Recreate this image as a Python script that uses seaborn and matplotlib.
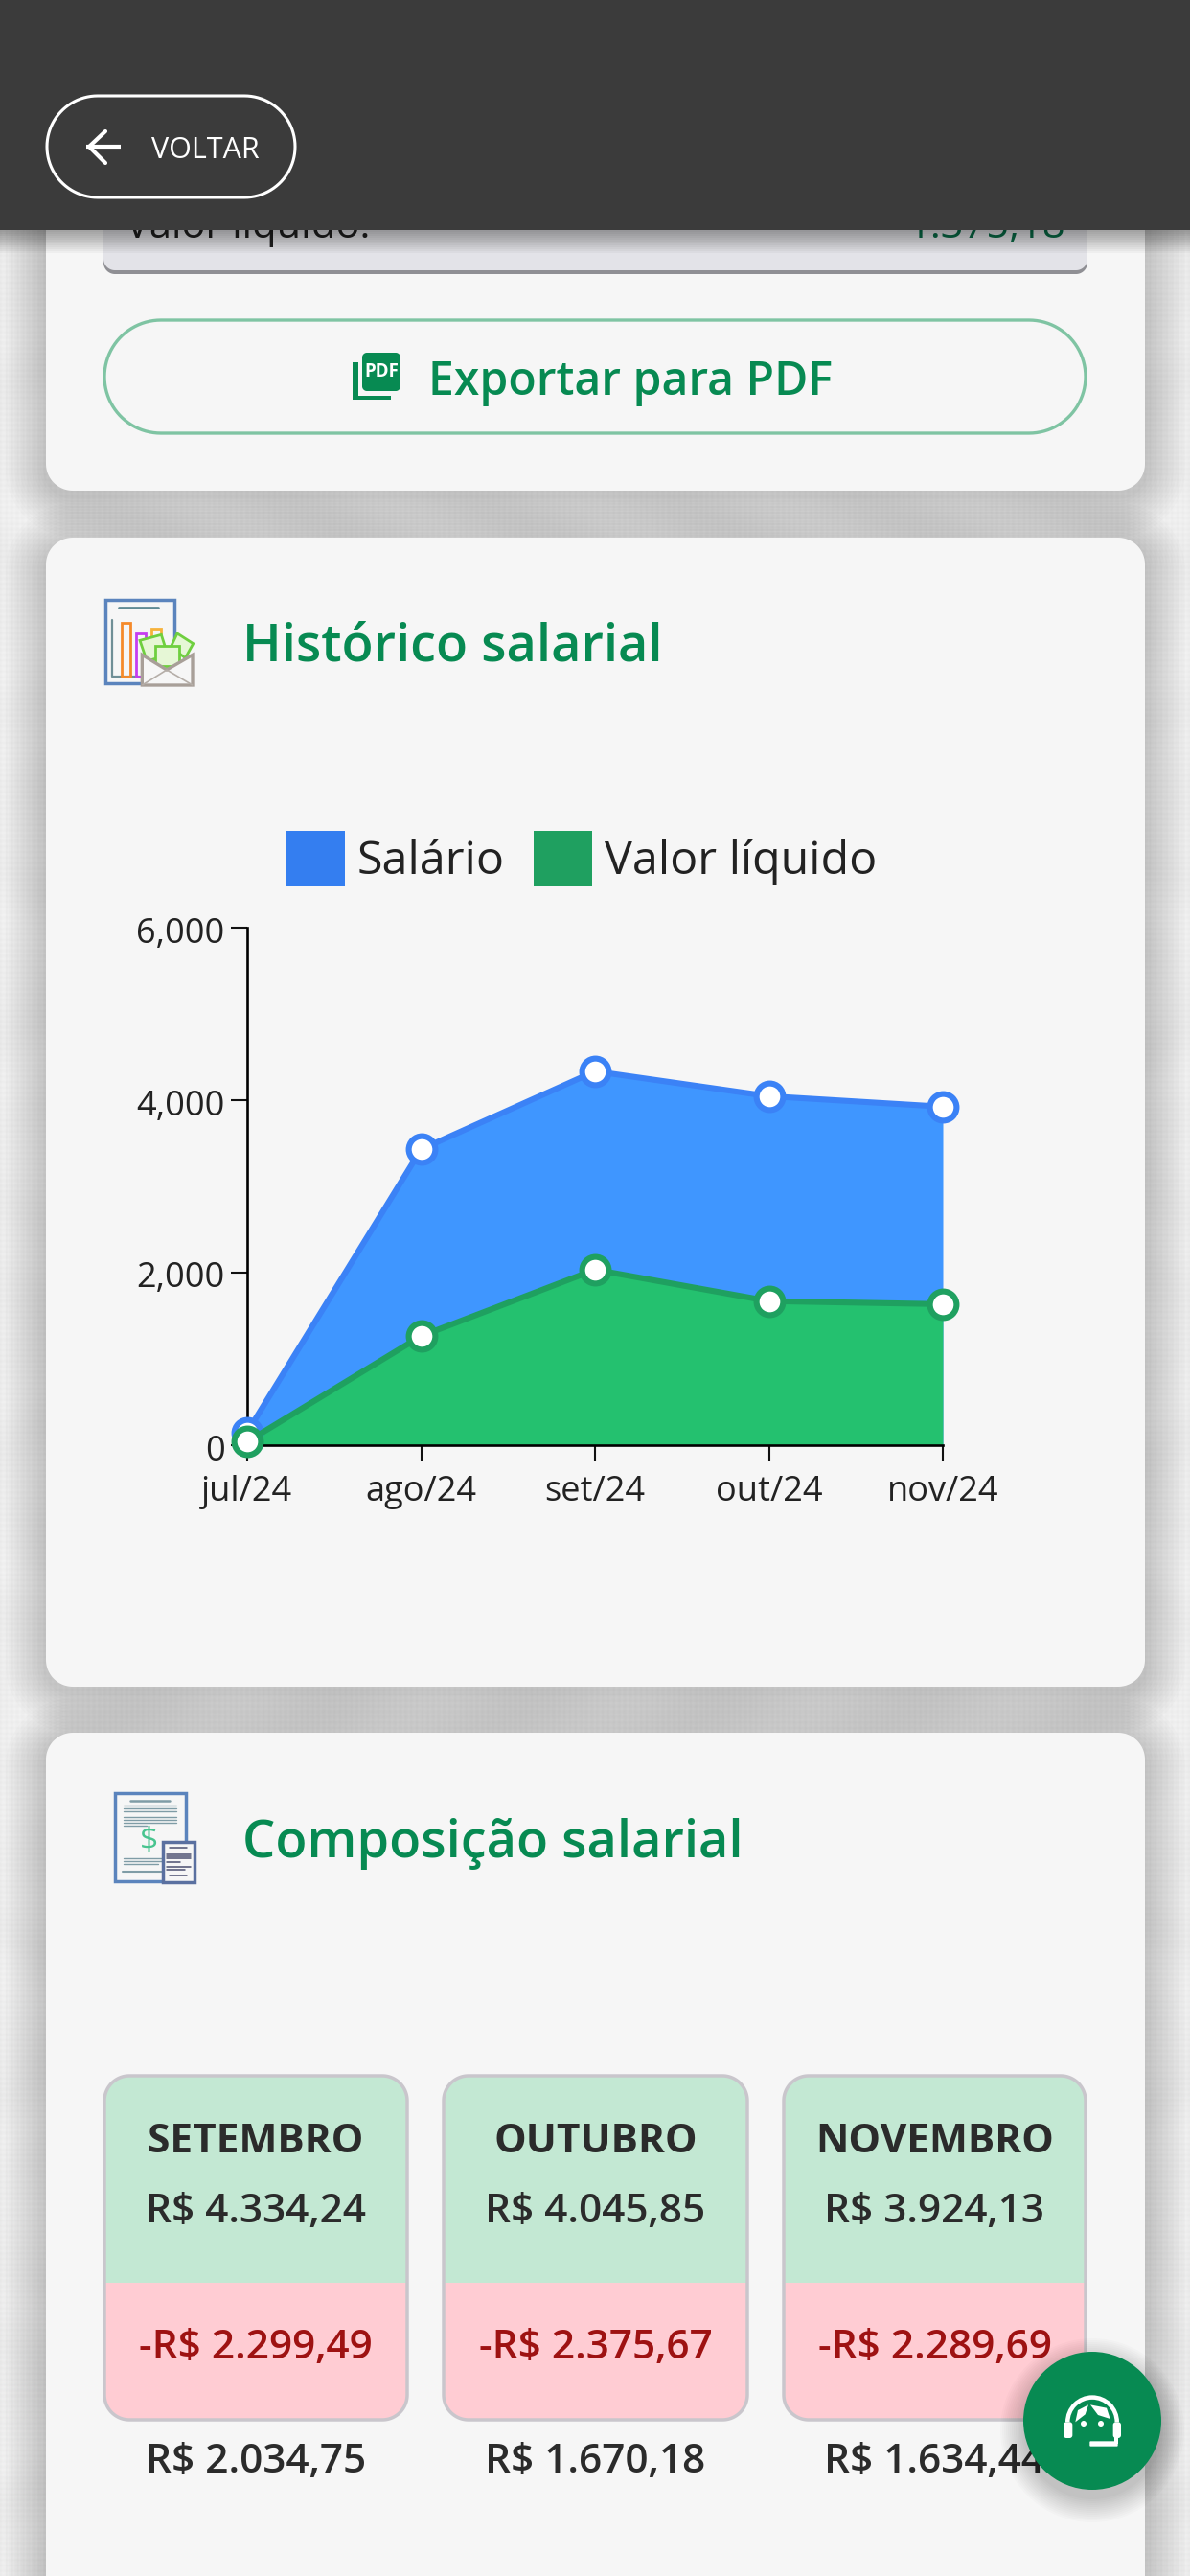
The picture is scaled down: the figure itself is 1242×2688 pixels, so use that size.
import numpy as np
import pandas as pd
import seaborn as sns
import matplotlib.pyplot as plt
from matplotlib.patches import Rectangle, Polygon, Circle, Wedge, Patch
from matplotlib.transforms import ScaledTranslation

# valores
meses = ['jul/24', 'ago/24', 'set/24', 'out/24', 'nov/24']
salario = [150, 3430, 4334.24, 4045.85, 3924.13]
liquido = [40, 1265, 2034.75, 1670.18, 1634.44]
y_ticks = [0, 2000, 4000, 6000]
y_labels = ['0', '2,000', '4,000', '6,000']

cards_mes = ['SETEMBRO', 'OUTUBRO', 'NOVEMBRO']
cards_bruto = ['R$ 4.334,24', 'R$ 4.045,85', 'R$ 3.924,13']
cards_desconto = ['-R$ 2.299,49', '-R$ 2.375,67', '-R$ 2.289,69']
cards_liquido = ['R$ 2.034,75', 'R$ 1.670,18', 'R$ 1.634,44']

VERDE = '#078a52'
AZUL_LINHA = '#3b82f6'
AZUL_AREA = '#3f96ff'
VERDE_LINHA = '#1fa060'
VERDE_AREA = '#24c16f'
CARD = '#f6f6f6'

sns.set_style('ticks')
plt.rcParams['font.family'] = ['Open Sans', 'DejaVu Sans']

fig = plt.figure(figsize=(12.42, 26.88), dpi=100)

# eixo da pagina, em pixels
page = fig.add_axes([0, 0, 1, 1])
page.set_xlim(0, 1242)
page.set_ylim(2688, 0)
page.axis('off')


# retangulo com cantos realmente circulares
def caixa(x0, y0, x1, y1, r, **kw):
    t = np.linspace(0, np.pi / 2, 24)
    pts = np.vstack([
        np.c_[x1 - r + r * np.sin(t), y0 + r - r * np.cos(t)],
        np.c_[x1 - r + r * np.cos(t), y1 - r + r * np.sin(t)],
        np.c_[x0 + r - r * np.sin(t), y1 - r + r * np.cos(t)],
        np.c_[x0 + r - r * np.cos(t), y0 + r - r * np.sin(t)],
    ])
    p = Polygon(pts, closed=True, **kw)
    page.add_patch(p)
    return p


def sombra(x0, y0, x1, y1, r, tam=42, dy=6, z=2):
    for d in range(tam, 0, -3):
        caixa(x0 - d, y0 - d + dy, x1 + d, y1 + d + dy, r + d,
              fc='black', ec='none', alpha=0.0105, zorder=z)


# fundo texturizado (trama clara)
yy, xx = np.mgrid[0:2688:2, 0:1242:2]
trama = (np.sin((xx + yy) * 0.55) * np.sin((xx - yy) * 0.55)
         + 0.6 * np.sin(xx * 0.031 + np.sin(yy * 0.017) * 3) * np.cos(yy * 0.023))
page.imshow(236 + 5 * trama, cmap='gray', vmin=0, vmax=255,
            extent=[0, 1242, 2688, 0], aspect='auto', zorder=0, interpolation='bilinear')
page.set_xlim(0, 1242)
page.set_ylim(2688, 0)

# cartoes
cartoes = [(48, 100, 1195, 512), (48, 561, 1195, 1760), (48, 1808, 1195, 2800)]
for c in cartoes:
    sombra(*c, 28)
for c in cartoes:
    caixa(*c, 28, fc=CARD, ec='none', zorder=3)

# painel cortado pelo cabecalho
caixa(108, 180, 1135, 286, 12, fc='#8f8f94', ec='none', zorder=4)
caixa(108, 180, 1135, 282, 12, fc='#e3e3e8', ec='none', zorder=4)
page.text(131, 248, 'Valor líquido:', fontsize=30, color='#222222', va='baseline', zorder=5)
page.text(1112, 248, '1.375,18', fontsize=30, color='#0f6e4a', va='baseline', ha='right', zorder=5)

# cabecalho
for i in range(12):
    page.add_patch(Rectangle((0, 240), 1242, 2 + i * 2, fc='black', ec='none', alpha=0.03, zorder=6))
page.add_patch(Rectangle((0, 0), 1242, 240, fc='#3b3b3b', ec='none', zorder=7))
caixa(49, 100, 308, 206, 53, fc='none', ec='white', lw=2.2, zorder=8)
page.plot([90, 126], [153, 153], color='white', lw=3, zorder=8, solid_capstyle='butt')
page.plot([110, 93, 110], [137, 153, 170], color='white', lw=3, zorder=8)
page.text(158, 157, 'VOLTAR', fontsize=22, color='white', va='center', zorder=8)

# botao PDF
caixa(109, 334, 1133, 452, 59, fc='none', ec='#7fc4a3', lw=2.4, zorder=4)
caixa(378, 368, 418, 408, 5, fc=VERDE, ec='none', zorder=5)
page.add_patch(Rectangle((368, 378), 6, 39, fc=VERDE, ec='none', zorder=5))
page.add_patch(Rectangle((368, 413), 40, 4, fc=VERDE, ec='none', zorder=5))
page.text(398, 388, 'PDF', fontsize=13.5, color='white', weight='bold', ha='center', va='center', zorder=6)
page.text(447, 399, 'Exportar para PDF', fontsize=34.7, color=VERDE, weight='semibold', va='center', zorder=5)

# titulos
page.text(253, 675, 'Histórico salarial', fontsize=39, color=VERDE, weight='semibold', va='center', zorder=5)
page.text(253, 1924, 'Composição salarial', fontsize=39, color=VERDE, weight='semibold', va='center', zorder=5)


# icone do historico (coordenadas do recorte 3x)
def ic(pts):
    return [(100 + a / 3, 615 + b / 3) for a, b in pts]


page.add_patch(Rectangle((110, 626), 72, 87, fc='#f6f6f6', ec='#5b84bd', lw=2.5, zorder=5))
page.plot([124, 165], [634, 634], color='#5f8a94', lw=2, zorder=5)
page.plot([117, 117, 165], [647, 706, 706], color='#6f8f96', lw=1.6, zorder=5)
for bx, by, bw, cor in [(127, 650, 9, '#f58a2a'), (142, 661, 10, '#c53df0'), (158, 656, 10, '#f7b23b')]:
    page.add_patch(Rectangle((bx, by), bw, 706 - by, fc='none', ec=cor, lw=2, zorder=5))
for pts in [[(138, 160), (205, 142), (225, 205), (160, 225)],
            [(255, 138), (305, 170), (280, 215), (235, 180)],
            [(187, 176), (262, 176), (262, 240), (187, 240)]]:
    page.add_patch(Polygon(ic(pts), closed=True, fc='#e6f7d6', ec='#6fcf3f', lw=2, zorder=6))
page.add_patch(Polygon(ic([(145, 205), (222, 252), (303, 205), (303, 300), (145, 300)]), closed=True,
                       fc='#f6f6f6', ec='#a89f98', lw=2.4, zorder=6))
for pts in [[(145, 300), (222, 252)], [(303, 300), (222, 252)]]:
    page.add_patch(Polygon(ic(pts), closed=False, fc='none', ec='#b5aea8', lw=1.2, zorder=6))


# icone da composicao
def ic2(a, b):
    return 80 + a / 3, 1840 + b / 3


page.add_patch(Rectangle((120, 1871), 74, 92, fc='#f6f6f6', ec='#5b84bd', lw=2.5, zorder=5))
linhas = [(168, 290, 117, 1.8), (147, 311, 133, 1), (147, 311, 142, 1), (147, 311, 151, 1),
          (147, 311, 168, 1), (147, 311, 177, 1), (147, 311, 186, 1), (147, 218, 195, 1),
          (147, 266, 298, 1), (147, 266, 307, 1), (147, 255, 316, 1), (143, 266, 340, 1.5)]
for a0, a1, b, lw in linhas:
    page.plot([ic2(a0, b)[0], ic2(a1, b)[0]], [ic2(a0, b)[1]] * 2, color='#7f9ca6', lw=lw, zorder=5)
page.text(155, 1922, '$', fontsize=24, color='#48c48f', ha='center', va='center', zorder=5)
page.add_patch(Rectangle((170, 1922), 33, 42, fc='#f6f6f6', ec='#5a70a0', lw=2.5, zorder=6))
linhas2 = [(290, 345, 263), (282, 356, 284), (282, 356, 291), (282, 356, 298), (282, 324, 310),
           (282, 356, 324), (282, 338, 332), (290, 345, 350)]
for a0, a1, b in linhas2:
    page.plot([ic2(a0, b)[0], ic2(a1, b)[0]], [ic2(a0, b)[1]] * 2, color='#4c5070', lw=1.1, zorder=7)

# cards dos meses
borda = '#c9c6cc'
xs_cards = [(109, 425), (463, 780), (818, 1133)]
for i, (x0, x1) in enumerate(xs_cards):
    cx = (x0 + x1) / 2
    caixa(x0, 2166, x1, 2525, 26, fc='#ffccd3', ec='none', zorder=4)
    caixa(x0, 2166, x1, 2420, 26, fc='#c3e8d3', ec='none', zorder=5)
    page.add_patch(Rectangle((x0, 2382), x1 - x0, 60, fc='#ffccd3', ec='none', zorder=5))
    caixa(x0, 2166, x1, 2525, 26, fc='none', ec=borda, lw=2.5, zorder=6)
    page.text(cx, 2236, cards_mes[i], fontsize=30.5, weight='bold', color='#2b2b2b', ha='center', va='center', zorder=7)
    page.text(cx, 2308, cards_bruto[i], fontsize=30.4, weight='semibold', color='#2b2b2b', ha='center', va='center', zorder=7)
    page.text(cx, 2450, cards_desconto[i], fontsize=30.4, weight='semibold', color='#9e1212', ha='center', va='center', zorder=7)
    page.text(cx, 2569, cards_liquido[i], fontsize=30.4, weight='semibold', color='#2b2b2b', ha='center', va='center', zorder=7)

# botao de suporte
for d in range(26, 0, -2):
    page.add_patch(Circle((1140, 2536), 70 + d, fc='black', ec='none', alpha=0.014, zorder=8))
page.add_patch(Circle((1140, 2526), 72, fc=VERDE, ec='none', zorder=9))


def fb(a, b):
    return 1060 + a / 3, 2440 + b / 3


page.add_patch(Wedge(fb(240, 262), 28, 180, 360, width=4.5, fc='white', ec='none', zorder=10))
page.add_patch(Polygon([fb(187, 262), fb(195, 225), fb(228, 208), fb(218, 238)], fc='white', ec='none', zorder=10))
page.add_patch(Polygon([fb(234, 208), fb(285, 218), fb(296, 252), fb(258, 240)], fc='white', ec='none', zorder=10))
for a in (213, 267):
    page.add_patch(Circle(fb(a, 267), 3, fc='white', ec='none', zorder=10))
caixa(*fb(150, 262), *fb(178, 312), 3, fc='white', ec='none', zorder=10)
caixa(*fb(305, 262), *fb(330, 312), 3, fc='white', ec='none', zorder=10)
caixa(*fb(232, 322), *fb(320, 338), 1, fc='white', ec='none', zorder=10)
page.add_patch(Rectangle(fb(308, 300), 12 / 3, 30 / 3, fc='white', ec='none', zorder=10))

# grafico de area
df = pd.DataFrame({'mes': meses, 'salario': salario, 'liquido': liquido})
pos = np.arange(len(meses))

ax = fig.add_axes([258 / 1242, 1 - 1508 / 2688, (984 - 258) / 1242, 540 / 2688])
ax.patch.set_alpha(0)
ax.set_zorder(2)

ax.fill_between(pos, 0, df['salario'], color=AZUL_AREA, lw=0, zorder=1)
ax.fill_between(pos, 0, df['liquido'], color=VERDE_AREA, lw=0, zorder=2)
marca = dict(marker='o', markersize=20, markerfacecolor='white', markeredgewidth=4.4,
             linewidth=4.4, clip_on=False, errorbar=None, sort=False)
sns.lineplot(x=pos, y=df['salario'], ax=ax, color=AZUL_LINHA, markeredgecolor=AZUL_LINHA, zorder=3, **marca)
sns.lineplot(x=pos, y=df['liquido'], ax=ax, color=VERDE_LINHA, markeredgecolor=VERDE_LINHA, zorder=4, **marca)

ax.set_xlim(0, 4)
ax.set_ylim(0, 6000)
ax.set_xticks(pos, meses)
ax.set_yticks(y_ticks, y_labels)
ax.set_xlabel('')
ax.set_ylabel('')
sns.despine(ax=ax)
for s in ['left', 'bottom']:
    ax.spines[s].set_linewidth(1.9)
    ax.spines[s].set_color('black')
ax.tick_params(axis='both', length=12, width=1.5, color='#111111', labelsize=26, labelcolor='#222222')
ax.tick_params(axis='x', pad=10)
ax.tick_params(axis='y', pad=5)
desce = ScaledTranslation(0, -2 / 100, fig.dpi_scale_trans)
for t in ax.get_yticklabels():
    t.set_transform(t.get_transform() + desce)

handles = [Patch(fc='#347ef0', ec='none'), Patch(fc=VERDE_LINHA, ec='none')]
ax.legend(handles, ['Salário', 'Valor líquido'], loc='center', ncols=2, frameon=False,
          bbox_to_anchor=(607, 896), bbox_transform=page.transData, fontsize=34.8,
          handlelength=1.25, handleheight=1.47, handletextpad=0.27, columnspacing=0.63,
          borderpad=0, labelcolor='#222222')

fig.savefig('out.png', dpi=100)
